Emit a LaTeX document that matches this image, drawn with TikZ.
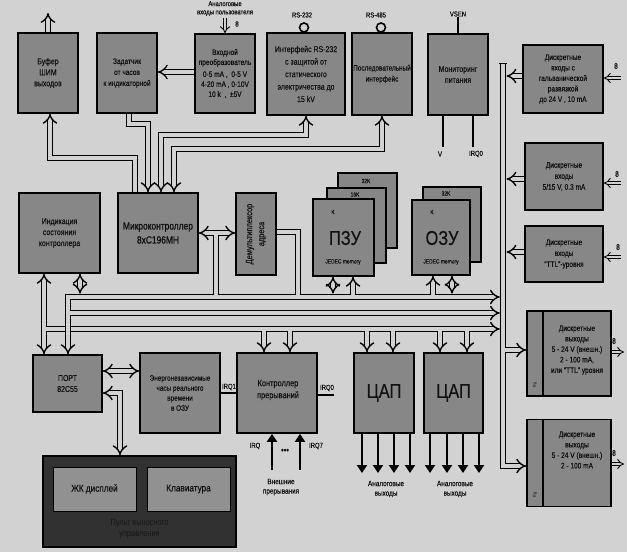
\documentclass[tikz,border=0pt]{standalone}
\usepackage{fontspec}
\setmainfont{Liberation Sans}[FakeStretch=0.82, FakeBold=0.35]
\newfontfamily\boldcond{Liberation Sans}[FakeStretch=0.8, FakeBold=1.2]
\newfontfamily\plaincond{Liberation Sans}[FakeStretch=0.82]
\usetikzlibrary{arrows.meta}
\definecolor{bgc}{HTML}{D2D2D2}
\definecolor{boxc}{HTML}{878787}
\definecolor{panc}{HTML}{313131}
\definecolor{inkc}{HTML}{111111}
\definecolor{pantxt}{HTML}{161616}
\begin{document}
\begin{tikzpicture}[x=1pt,y=-1pt,
  box/.style={draw=black, line width=1.7pt, fill=boxc, align=center, inner sep=1pt, text=inkc, font=\fontsize{8.5}{11}\selectfont},
  bus/.style={draw=black, line width=1.4pt, double=bgc, double distance=3.6pt},
  sbus/.style={draw=black, line width=0.9pt, double=bgc, double distance=2.6pt},
  wire/.style={draw=black, line width=1.2pt},
  tharr/.style={draw=black, line width=2.6pt, -{Triangle[length=8pt,width=10pt]}},
  lbl/.style={align=center, inner sep=0.5pt, text=inkc, font=\fontsize{7.2}{8.2}\selectfont},
  txt/.style={align=center, inner sep=0.5pt, text=inkc, font=\fontsize{8.5}{11}\selectfont},
  big/.style={inner sep=0pt, text=inkc, font=\fontsize{20}{21}\selectfont}
]
\fill[bgc] (0,0) rectangle (627,552);
\useasboundingbox (0,0) rectangle (627,552);

% ---------- top row ----------
\node[box, minimum width=60pt, minimum height=80pt] (buf) at (48,73) {Буфер\\ШИМ\\выходов};
\node[box, minimum width=60pt, minimum height=80pt, font=\fontsize{8}{11}\selectfont] (zad) at (127,73) {Задатчик\\от часов\\к индикаторной};
\node[box, minimum width=60pt, minimum height=79pt, font=\fontsize{8}{10}\selectfont] (adc) at (225,73.5)
  {Входной\\преобразователь\\[2pt]0-5 mA ,\ \ 0-5 V\\4-20 mA , 0-10V\\10 k \ ,\ \ ±5V};
\node[box, minimum width=78pt, minimum height=82pt, font=\fontsize{8.5}{12.5}\selectfont] (rs232) at (306,74)
  {Интерфейс RS-232\\с защитой от\\статического\\электричества до\\15 kV};
\node[box, minimum width=60pt, minimum height=82pt, font=\fontsize{7.8}{11}\selectfont] (rs485) at (382,74) {Последовательный\\интерфейс};
\node[box, minimum width=60pt, minimum height=81pt] (pwr) at (458,74.5) {Мониторинг\\питания};

\node[lbl] (anin) at (225,8.5) {Аналоговые\\входы пользователя};
\node[lbl] (rs232l) at (302,15) {RS-232};
\node[lbl] (rs485l) at (376,15) {RS-485};
\node[lbl] (vsen) at (458,14) {VSEN};

% ---------- discrete I/O ----------
\node[box, minimum width=80pt, minimum height=68pt, font=\fontsize{8}{10.5}\selectfont] (din1) at (563,79)
  {Дискретные\\входы с\\гальванической\\развязкой\\до 24 V , 10 mA};
\node[box, minimum width=78pt, minimum height=67pt, font=\fontsize{8}{11}\selectfont] (din2) at (564,176.5)
  {Дискретные\\входы\\5/15 V, 0.3 mA};
\node[box, minimum width=78pt, minimum height=56pt, font=\fontsize{8}{11}\selectfont] (din3) at (564,254)
  {Дискретные\\входы\\“TTL”-уровня};
\node[box, minimum width=84pt, minimum height=85pt] (dout1) at (569,353.5) {};
\node[box, minimum width=84pt, minimum height=87pt] (dout2) at (569,463) {};
\draw[line width=1.7pt] (543,0 |- dout1.north) -- (543,0 |- dout1.south);
\draw[line width=1.7pt] (543,0 |- dout2.north) -- (543,0 |- dout2.south);
\node[txt, font=\fontsize{8}{10.5}\selectfont] (dout1t) at (577,350) {Дискретные\\выходы\\5 - 24 V (внешн.)\\2 - 100 mA,\\или “TTL” уровня};
\node[txt, font=\fontsize{8}{10.5}\selectfont] (dout2t) at (577,450) {Дискретные\\выходы\\5 - 24 V (внешн.)\\2 - 100 mA};
\node[lbl, rotate=90, font=\plaincond\fontsize{4.5}{4.5}\selectfont] (rg1) at (535,385) {Rg};
\node[lbl, rotate=90, font=\plaincond\fontsize{4.5}{4.5}\selectfont] (rg2) at (535,495) {Rg};

% ---------- middle row ----------
\node[box, minimum width=81pt, minimum height=80pt] (ind) at (59.5,233) {Индикация\\состояния\\контроллера};
\node[box, minimum width=80pt, minimum height=80pt, font=\boldcond\fontsize{10.5}{14}\selectfont] (mcu) at (158,233) {Микроконтроллер\\8xC196MH};
\node[box, minimum width=40pt, minimum height=82pt] (demux) at (256,234) {};
\node[txt, rotate=90, font=\fontsize{9}{12}\selectfont] (demuxt) at (256,234) {Демультиплексор\\адреса};

\node[box, minimum width=59pt, minimum height=75pt] (romc) at (367.5,210.5) {};
\node[box, minimum width=59pt, minimum height=75pt] (romb) at (356.5,225.5) {};
\node[box, minimum width=61pt, minimum height=77pt] (rom) at (343.5,237.5) {};
\node[lbl, font=\fontsize{6}{6}\selectfont] (k32a) at (366,181) {32K};
\node[lbl, font=\fontsize{6}{6}\selectfont] (k16) at (355,194.5) {16K};
\node[lbl, font=\fontsize{6}{6}\selectfont] (k8a) at (333,212) {K};
\node[big] (romt) at (345,238) {ПЗУ};
\node[lbl, font=\fontsize{6}{6}\selectfont] (jed1) at (343,262) {JEDEC memory};

\node[box, minimum width=58pt, minimum height=75pt] (ramb) at (452,224.5) {};
\node[box, minimum width=58pt, minimum height=75pt] (ram) at (441,237.5) {};
\node[lbl, font=\fontsize{6}{6}\selectfont] (k32b) at (446,193.5) {32K};
\node[lbl, font=\fontsize{6}{6}\selectfont] (k8b) at (432,212) {K};
\node[big] (ramt) at (442,238) {ОЗУ};
\node[lbl, font=\fontsize{6}{6}\selectfont] (jed2) at (441,262) {JEDEC memory};

% ---------- lower row ----------
\node[box, minimum width=69pt, minimum height=57pt] (port) at (67.5,383.5) {ПОРТ\\82C55};
\node[box, minimum width=80pt, minimum height=80pt, font=\fontsize{7.8}{10}\selectfont] (rtc) at (180,393) {Энергонезависимые\\часы реального\\времени\\в ОЗУ};
\node[box, minimum width=80pt, minimum height=80pt] (irqc) at (277,393) {};
\node[txt, font=\fontsize{9}{12}\selectfont] (irqct) at (278,390) {Контроллер\\прерываний};
\node[box, minimum width=60pt, minimum height=80pt] (dac1) at (384,393) {};
\node[big] (dac1t) at (384,393) {ЦАП};
\node[box, minimum width=59pt, minimum height=80pt] (dac2) at (453.5,393) {};
\node[big] (dac2t) at (453.5,393) {ЦАП};

% ---------- operator panel ----------
\node[draw=black, line width=1.7pt, fill=panc, minimum width=193pt, minimum height=91pt] (panel) at (139.5,501.5) {};
\node[draw=black, line width=1pt, fill=boxc!92!white, minimum width=83pt, minimum height=44pt, text=inkc, font=\fontsize{10}{11}\selectfont] (lcd) at (94.5,489) {ЖК дисплей};
\node[draw=black, line width=1pt, fill=boxc!92!white, minimum width=83pt, minimum height=44pt, text=inkc, font=\fontsize{10}{11}\selectfont] (kbd) at (188.5,489) {Клавиатура};
\node[align=center, text=pantxt, draw=none, font=\plaincond\fontsize{9}{10.5}\selectfont] (panelt) at (139.5,529) {\color{pantxt}Пульт выносного\\\color{pantxt}управления};

% ---------- top buses ----------
\draw[bus,-Implies] (buf.north) -- (48,13);
\draw[bus,-Implies] (135,0 |- mcu.north) -- (135,158) -- (50,158) -- (50,0 |- buf.south);
\draw[bus,-Implies] (129,0 |- zad.south) -- (129,124) -- (148,124) -- (148,0 |- mcu.north);
\draw[bus,{Implies}-{Implies}] (161,0 |- mcu.north) -- (161,135) -- (306,135) -- (306,0 |- rs232.south);
\draw[bus,{Implies}-{Implies}] (174,0 |- mcu.north) -- (174,149) -- (382,149) -- (382,0 |- rs485.south);
\draw[bus,-Implies] (adc.west |- 0,72) -- (zad.east |- 0,72);
\draw[sbus,-Implies] (225,18) -- (adc.north);
\node[lbl, font=\fontsize{7.5}{7.5}\selectfont] (n8a) at (237,24) {8};
\draw[line width=1.6pt, fill=bgc] (304,27.5) circle (4.5pt);
\draw[line width=1.6pt] (301,32) -- (301,0 |- rs232.north) (307,32) -- (307,0 |- rs232.north);
\draw[line width=1.6pt, fill=bgc] (381,27.5) circle (4.5pt);
\draw[line width=1.6pt] (378,32) -- (378,0 |- rs485.north) (384,32) -- (384,0 |- rs485.north);
\draw[wire] (vsen.south) -- (pwr.north);
\draw[wire] (443,0 |- pwr.south) -- (443,147);
\draw[wire] (473,0 |- pwr.south) -- (473,147);
\node[lbl, font=\fontsize{7.5}{7.5}\selectfont] (vl) at (440,154) {V};
\node[lbl] (irq0a) at (476,154) {IRQ0};

% ---------- right bus ----------
\draw[bus,-Implies] (503,63) -- (503,466) -- (dout2.west |- 0,466);
\draw[line width=1.4pt] (499,63.7) -- (507,63.7);
\draw[bus,-Implies] (504.8,350) -- (dout1.west |- 0,350);
\draw[bus,-Implies] (din1.west |- 0,76) -- (506.5,76);
\draw[bus,-Implies] (din2.west |- 0,179) -- (506.5,179);
\draw[bus,-Implies] (din3.west |- 0,252) -- (506.5,252);

% connectors on the right
\draw[sbus,-Implies] (621,78) -- (din1.east |- 0,78);
\node[lbl, font=\fontsize{8}{8}\selectfont] (n8b) at (616,66) {8};
\draw[sbus,-Implies] (621,183) -- (din2.east |- 0,183);
\node[lbl, font=\fontsize{8}{8}\selectfont] (n8c) at (617,174) {8};
\draw[sbus,-Implies] (621,257) -- (din3.east |- 0,257);
\node[lbl, font=\fontsize{8}{8}\selectfont] (n8d) at (618,247) {8};
\draw[sbus,-Implies] (dout1.east |- 0,352) -- (624,352);
\node[lbl, font=\fontsize{8}{8}\selectfont] (n8e) at (614,341) {8};
\draw[sbus,-Implies] (dout2.east |- 0,464) -- (624,464);
\node[lbl, font=\fontsize{8}{8}\selectfont] (n8f) at (614,453) {8};

% ---------- horizontal buses ----------
\draw[bus,{Implies}-{Implies}] (44,0 |- ind.south) -- (44,0 |- port.north);
\draw[bus,-Implies] (45.8,329) -- (499.8,329);
\draw[bus,{Implies}-{Implies}] (68,0 |- port.north) -- (68,297) -- (499.8,297);
\draw[bus,-Implies] (69.8,313) -- (499.8,313);
\draw[bus,{Implies}-{Implies}] (80,0 |- ind.south) -- (80,293.6);

\draw[bus,{Implies}-{Implies}] (mcu.east |- 0,233) -- (demux.west |- 0,233);
\draw[bus] (216,234.8) -- (216,295.2);
\draw[bus] (demux.east |- 0,232) -- (298,232) -- (298,295.2);
\draw[bus,{Implies}-{Implies}] (333,0 |- rom.south) -- (333,293.6);
\draw[bus,-Implies] (353,295.2) -- (353,0 |- rom.south);
\draw[bus,-Implies] (433,295.2) -- (433,0 |- ram.south);
\draw[bus,{Implies}-{Implies}] (452,0 |- ram.south) -- (452,293.6);

\draw[bus,-Implies] (264,330.8) -- (264,0 |- irqc.north);
\draw[bus,-Implies] (290,330.8) -- (290,0 |- irqc.north);
\draw[bus,-Implies] (367,330.8) -- (367,0 |- dac1.north);
\draw[bus,-Implies] (393,330.8) -- (393,0 |- dac1.north);
\draw[bus,-Implies] (440,330.8) -- (440,0 |- dac2.north);
\draw[bus,-Implies] (467,330.8) -- (467,0 |- dac2.north);

% ---------- lower connections ----------
\draw[bus,{Implies}-{Implies}] (port.east |- 0,371) -- (rtc.west |- 0,371);
\draw[bus,{Implies}-{Implies}] (port.east |- 0,393) -- (120,393) -- (120,0 |- panel.north);
\draw[wire] (rtc.east |- 0,393) -- (irqc.west |- 0,393);
\node[lbl] (irq1) at (229,387) {IRQ1};
\draw[wire] (irqc.east |- 0,395) -- (334,395);
\node[lbl] (irq0b) at (327,388) {IRQ0};

\draw[tharr] (272,470) -- (272,0 |- irqc.south);
\draw[tharr] (300,470) -- (300,0 |- irqc.south);
\node[lbl] (irqa) at (255,446) {IRQ};
\node[lbl] (irq7) at (316,446) {IRQ7};
\node[lbl, font=\fontsize{9}{9}\selectfont] (dots) at (285,451) {•••};
\node[lbl, font=\fontsize{7.8}{9.5}\selectfont] (extirq) at (281,487) {Внешние\\прерывания};

\foreach \xx in {362,378,394,410} \draw[tharr] (\xx,0 |- dac1.south) -- (\xx,473);
\foreach \xx in {430,447,463,479} \draw[tharr] (\xx,0 |- dac2.south) -- (\xx,473);
\node[lbl, font=\fontsize{7.8}{9.5}\selectfont] (aout1) at (386,489) {Аналоговые\\выходы};
\node[lbl, font=\fontsize{7.8}{9.5}\selectfont] (aout2) at (455,489) {Аналоговые\\выходы};
\end{tikzpicture}
\end{document}
